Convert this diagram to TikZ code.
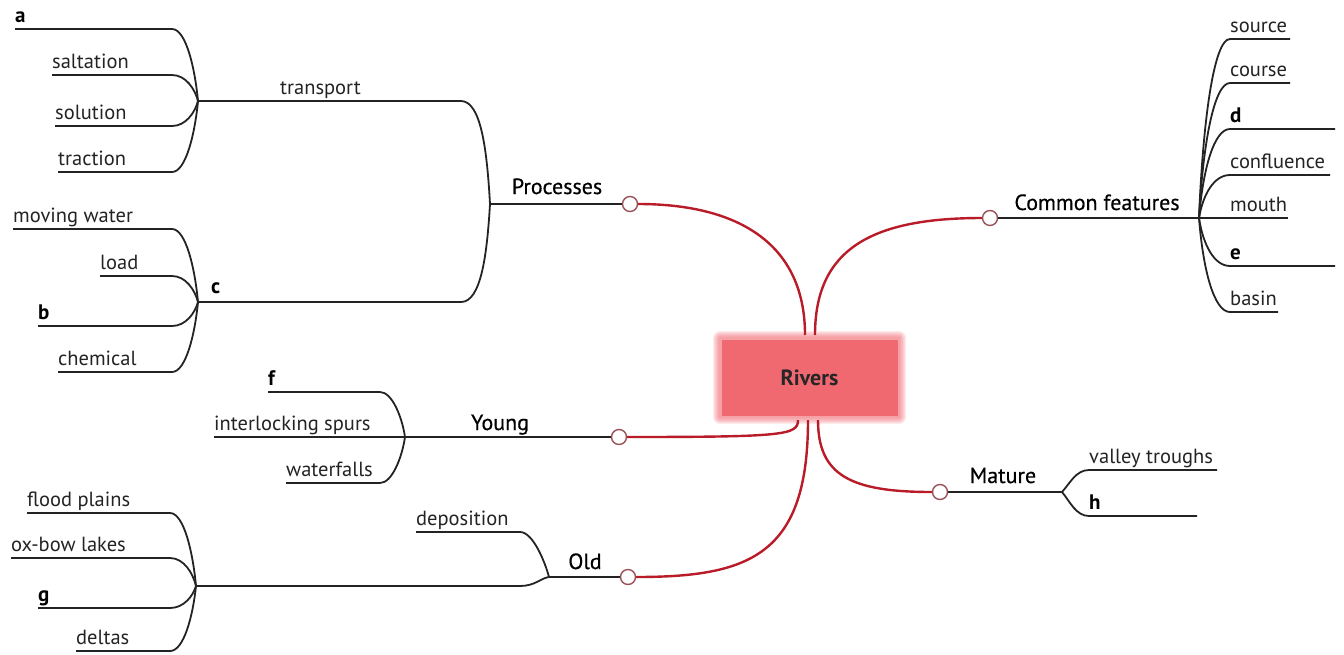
\documentclass[tikz,border=0pt]{standalone}
\usepackage{fontspec}
\setmainfont{PT Sans}
\newfontfamily\topicfont[FakeBold=0.5]{PT Sans}
\usetikzlibrary{positioning,calc}

\definecolor{rivred}{RGB}{185,28,40}
\definecolor{boxred}{RGB}{240,104,112}
\definecolor{inkgray}{RGB}{35,35,35}

\tikzset{
  branch/.style={draw=inkgray, line width=1.8pt},
  redline/.style={draw=rivred, line width=2.4pt},
  joint/.style={circle, draw=rivred!45!gray, fill=white, line width=1.4pt, minimum size=15pt, inner sep=0pt},
  leaf/.style={anchor=base west, inner sep=0pt, text=inkgray, font=\fontsize{20.5}{22}\selectfont},
  letter/.style={leaf, text=black, font=\fontsize{21}{22}\selectfont\bfseries},
  topic/.style={anchor=base, inner sep=0pt, text=black, font=\topicfont\fontsize{22}{24}\selectfont},
}

\begin{document}
\begin{tikzpicture}[x=1pt,y=-1pt]
    \useasboundingbox (0,0) rectangle (1344,654);

    % hubs
    \coordinate (trhub) at (198,101);
    \coordinate (chub) at (198,302);
    \coordinate (prhub) at (490,204);
    \coordinate (yghub) at (405,437);
    \coordinate (oldhub) at (549,577);
    \coordinate (oldlhub) at (196,586);
    \coordinate (cfhub) at (1199,218);
    \coordinate (mahub) at (1062,492);

    % joints on the red lines
    \node[joint] (prc) at (630,204) {};
    \node[joint] (cfc) at (990,218) {};
    \node[joint] (yc) at (619,437) {};
    \node[joint] (oc) at (628,577) {};
    \node[joint] (mac) at (940,492) {};

    % centre
    \foreach \k in {1,...,7} {
        \fill[boxred, opacity=0.13, rounded corners=\k pt] (720-\k,338-\k) rectangle (899+\k,417+\k);
    }
    \node[fill=boxred, minimum width=176pt, minimum height=76pt, inner sep=0pt,
          font=\fontsize{22}{24}\selectfont\bfseries, text=black!85] (riv) at (809.5,377.5) {Rivers};

    \draw[redline] (805,335) .. controls (805,245) and (740,204) .. (prc.east);
    \draw[redline] (815,335) .. controls (815,250) and (870,218) .. (cfc.west);
    \draw[redline] (798,420) .. controls (798,435) and (785,437) .. (yc.east);
    \draw[redline] (808,420) .. controls (808,555) and (750,577) .. (oc.east);
    \draw[redline] (818,420) .. controls (818,475) and (850,492) .. (mac.west);

    % Processes
    \node[topic] (proc) at (557,194) {Processes};
    \draw[branch] (prc.west) -- (prhub);
    \node[leaf] (transport) at (280,94) {transport};
    \node[letter] (c) at (211,293) {c};
    \draw[branch] (trhub) -- (461,101) .. controls (481,101) and (487,150) .. (prhub);
    \draw[branch] (chub) -- (461,302) .. controls (481,302) and (487,255) .. (prhub);

    \foreach \nm/\txt/\lx/\ly/\sty in {a/a/15/29/letter, salt/saltation/52/75/leaf,
        solu/solution/55/126/leaf, trac/traction/58/172/leaf} {
        \node[style=\sty] (\nm) at (\lx,\ly-7) {\txt};
        \draw[branch] ([yshift=-7pt]\nm.base west) -- (172,\ly)
            .. controls (186,\ly) and (195,{0.45*\ly+0.55*101}) .. (trhub);
    }
    \foreach \nm/\txt/\lx/\ly/\sty in {mw/moving water/13/229/leaf, load/load/100/276/leaf,
        b/b/38/326/letter, chem/chemical/58/372/leaf} {
        \node[style=\sty] (\nm) at (\lx,\ly-7) {\txt};
        \draw[branch] ([yshift=-7pt]\nm.base west) -- (172,\ly)
            .. controls (186,\ly) and (195,{0.45*\ly+0.55*302}) .. (chub);
    }

    % Young
    \node[topic] (young) at (500,430) {Young};
    \draw[branch] (yc.west) -- (yghub);
    \foreach \nm/\txt/\lx/\ly/\sty in {f/f/268/392/letter, spurs/interlocking spurs/214/437/leaf,
        wf/waterfalls/286/483/leaf} {
        \node[style=\sty] (\nm) at (\lx,\ly-7) {\txt};
        \draw[branch] ([yshift=-7pt]\nm.base west) -- (380,\ly)
            .. controls (392,\ly) and (402,{0.45*\ly+0.55*437}) .. (yghub);
    }

    % Old
    \node[topic] (old) at (585,569) {Old};
    \draw[branch] (oc.west) -- (oldhub);
    \node[leaf] (dep) at (416,525) {deposition};
    \draw[branch] ([yshift=-7pt]dep.base west) -- (520,532)
        .. controls (533,532) and (545,562) .. (oldhub);
    \draw[branch] (oldlhub) -- (520,586) .. controls (535,586) and (541,578) .. (oldhub);
    \foreach \nm/\txt/\lx/\ly/\sty in {fp/flood plains/27/513/leaf, oxb/ox-bow lakes/11/558/leaf,
        g/g/38/608/letter, del/deltas/76/651/leaf} {
        \node[style=\sty] (\nm) at (\lx,\ly-7) {\txt};
        \draw[branch] ([yshift=-7pt]\nm.base west) -- (170,\ly)
            .. controls (184,\ly) and (193,{0.45*\ly+0.55*586}) .. (oldlhub);
    }

    % Common features
    \node[topic] (cf) at (1097,210) {Common features};
    \draw[branch] (cfc.east) -- (cfhub);
    \foreach \nm/\txt/\ly/\ex/\sty in {src/source/39/1290/leaf, crs/course/83/1290/leaf,
        d/d/129/1335/letter, conf/confluence/175/1330/leaf, mth/mouth/218/1288/leaf,
        e/e/266/1335/letter, bsn/basin/312/1278/leaf} {
        \node[style=\sty] (\nm) at (1230,\ly-7) {\txt};
        \draw[branch] (cfhub) .. controls (1203,{0.45*218+0.55*\ly}) and (1214,\ly)
            .. ([yshift=-7pt]\nm.base west) -- (\ex,\ly);
    }

    % Mature
    \node[topic] (mat) at (1003,483) {Mature};
    \draw[branch] (mac.east) -- (mahub);
    \foreach \nm/\txt/\ly/\ex/\sty in {vt/valley troughs/470/1217/leaf, h/h/516/1197/letter} {
        \node[style=\sty] (\nm) at (1089,\ly-7) {\txt};
        \draw[branch] (mahub) .. controls (1070,{0.6*492+0.4*\ly}) and (1076,\ly)
            .. ([yshift=-7pt]\nm.base west) -- (\ex,\ly);
    }
\end{tikzpicture}
\end{document}
